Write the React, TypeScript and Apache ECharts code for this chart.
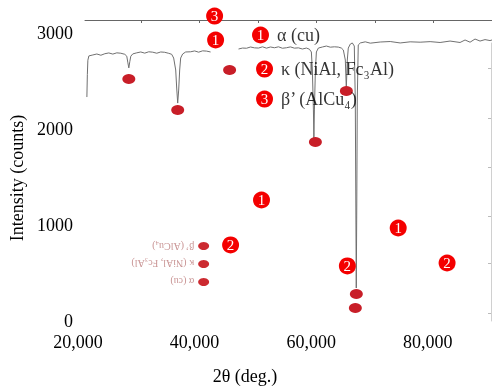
import React, { useEffect, useRef } from "react";
import * as echarts from "echarts";

// axis ticks / labels
const xTickLabels = [20000, 40000, 60000, 80000];
const yTickLabels = [0, 1000, 2000, 3000];
const topFrameTicks = [31000, 41000, 51000, 61000, 71000, 81000];
const rightFrameTicks = [80, 600, 1090, 1600, 2120, 2640];

// XRD trace (2θ, counts), three scanned pieces
const traceA: (number | string)[][] = [
  [21540, 2336], [21620, 2570], [21710, 2720], [21880, 2765], [22570, 2775], [23250, 2785],
  [23940, 2772], [24620, 2788], [25300, 2796], [25990, 2784], [26670, 2797], [27360, 2793],
  [28040, 2782], [28380, 2762], [28550, 2700], [28730, 2640], [28900, 2705], [29070, 2762],
  [29410, 2786], [30090, 2797], [30780, 2806], [31460, 2794], [32150, 2808], [32830, 2804],
  [33520, 2793], [34200, 2806], [34880, 2803], [35570, 2792], [36080, 2782], [36420, 2743],
  [36770, 2618], [36940, 2430], [37110, 2273], [37280, 2409], [37450, 2618], [37620, 2743],
  [37960, 2785], [38480, 2806], [39330, 2808], [40020, 2817], [40700, 2804], [41390, 2818],
  [42070, 2815], [42750, 2806],
];
const traceGap: (number | string)[][] = [[45000, "-"]];
const traceB: (number | string)[][] = [
  [47540, 2837], [48230, 2847], [48910, 2845], [49600, 2858], [50280, 2849], [50970, 2847],
  [51650, 2860], [52330, 2846], [53020, 2858], [53700, 2850], [54390, 2860], [55070, 2845],
  [55760, 2850], [56440, 2859], [57120, 2846], [57810, 2849], [58490, 2837], [59180, 2847],
  [59690, 2835], [60030, 2806], [60200, 2618], [60380, 2201], [60460, 1909], [60550, 2201],
  [60720, 2618], [60890, 2806], [61230, 2847], [61920, 2858], [62600, 2868], [63280, 2856],
  [63970, 2860], [64650, 2857], [65170, 2847], [65510, 2827], [65850, 2722], [66020, 2430],
  [66190, 2722], [66360, 2847], [66710, 2889],
];
const traceC: (number | string)[][] = [
  [67050, 2900], [67390, 2868], [67560, 2305], [67650, 1262], [67730, 344], [67820, 1262],
  [67900, 2305], [68070, 2879], [68420, 2900], [69270, 2912], [70130, 2898], [71840, 2910],
  [73550, 2915], [75260, 2900], [76970, 2912], [78680, 2908], [80390, 2914], [82100, 2905],
  [83810, 2920], [85520, 2905], [86380, 2931], [87240, 2908], [88090, 2941], [88950, 2920],
  [89800, 2935], [90660, 2925], [91000, 2931],
];

// big numbered markers
const bigMarkerX = [43440, 43610, 51310, 52000, 52000, 51480, 46180, 66200, 74920, 83300];
const bigMarkerY = [3181, 2931, 2983, 2628, 2315, 1262, 793, 574, 970, 605];
const bigMarkerNum = ["3", "1", "1", "2", "3", "1", "2", "2", "1", "2"];
const legendTexts = ["", "", "α (cu)", "κ (NiAl, Fc₃Al)", "β’ (AlCu₄)", "", "", "", "", ""];

// small peak markers on the trace
const peakMarkerX = [28730, 37110, 46010, 60720, 66030, 67740, 67570];
const peakMarkerY = [2524, 2201, 2618, 1867, 2399, 282, 136];

// mini legend (upside down)
const miniLegendX = [41560, 41560, 41560];
const miniLegendY = [782, 595, 407];
const miniLegendTexts = ["β’ (AlCu₄)", "κ (NiAl, Fc₃Al)", "α (cu)"];

const serif = "'Liberation Serif', 'Times New Roman', serif";

export default function App() {
  const ref = useRef<HTMLDivElement>(null);
  useEffect(() => {
    const chart = echarts.init(ref.current!, null, { renderer: "svg" });
    const trace = [...traceA, ...traceGap, ...traceB, ...traceC];
    const big = bigMarkerX.map((x, i) => [x, bigMarkerY[i]]);
    chart.setOption({
      animation: false,
      grid: [
        { left: 77, right: 0, top: 19, bottom: 69 },
        { left: 85, right: 0, top: 20, height: 10 },
        { left: 480, right: 1, top: 43, bottom: 69 },
      ],
      xAxis: [
        {
          gridIndex: 0,
          type: "value",
          min: 20000,
          max: 91000,
          axisLine: { show: false },
          axisTick: { show: false },
          splitLine: { show: false },
          axisLabel: {
            customValues: xTickLabels,
            formatter: (v: number) => v.toLocaleString("en-US"),
            color: "#000",
            fontFamily: serif,
            fontSize: 18,
            margin: 12,
          },
          name: "2θ (deg.)",
          nameLocation: "middle",
          nameGap: 46,
          nameTextStyle: { color: "#000", fontFamily: serif, fontSize: 18, padding: [0, 80, 0, 0] },
        },
        {
          gridIndex: 1,
          type: "value",
          position: "top",
          min: 21370,
          max: 91000,
          axisLine: { show: true, onZero: false, lineStyle: { color: "#666", width: 1 } },
          axisTick: { show: true, inside: true, length: 3, customValues: topFrameTicks, lineStyle: { color: "#666" } },
          axisLabel: { show: false },
          splitLine: { show: false },
        },
        { gridIndex: 2, type: "value", show: false, min: 0, max: 1 },
      ],
      yAxis: [
        {
          gridIndex: 0,
          type: "value",
          min: 0,
          max: 3150,
          axisLine: { show: false },
          axisTick: { show: false },
          splitLine: { show: false },
          axisLabel: {
            customValues: yTickLabels,
            formatter: (v: number) => String(v),
            color: "#000",
            fontFamily: serif,
            fontSize: 18,
            margin: 5,
          },
          name: "Intensity (counts)",
          nameLocation: "middle",
          nameGap: 50,
          nameTextStyle: { color: "#000", fontFamily: serif, fontSize: 18, padding: [0, 16, 0, 0] },
        },
        { gridIndex: 1, type: "value", show: false, min: 0, max: 1 },
        {
          gridIndex: 2,
          type: "value",
          position: "right",
          min: 0,
          max: 2900,
          axisLine: { show: true, onZero: false, lineStyle: { color: "#d0d0d0", width: 1 } },
          axisTick: { show: true, inside: true, length: 3, customValues: rightFrameTicks, lineStyle: { color: "#bbb" } },
          axisLabel: { show: false },
          splitLine: { show: false },
        },
      ],
      series: [
        {
          type: "line",
          xAxisIndex: 0,
          yAxisIndex: 0,
          data: trace,
          symbol: "none",
          connectNulls: false,
          lineStyle: { color: "#707070", width: 1 },
          z: 2,
        },
        {
          type: "scatter",
          xAxisIndex: 0,
          yAxisIndex: 0,
          data: peakMarkerX.map((x, i) => [x, peakMarkerY[i]]),
          symbolSize: [13, 10],
          itemStyle: { color: "#c81e28", opacity: 1 },
          clip: false,
          z: 3,
        },
        {
          type: "scatter",
          xAxisIndex: 0,
          yAxisIndex: 0,
          data: miniLegendX.map((x, i) => [x, miniLegendY[i]]),
          symbolSize: [11, 8],
          itemStyle: { color: "#cc2a30", opacity: 1 },
          clip: false,
          z: 3,
          label: {
            show: true,
            position: "left",
            align: "left",
            verticalAlign: "middle",
            rotate: 180,
            distance: 4,
            formatter: (p: any) => miniLegendTexts[p.dataIndex],
            color: "#c99494",
            fontSize: 10,
            fontFamily: serif,
          },
        },
        {
          type: "scatter",
          xAxisIndex: 0,
          yAxisIndex: 0,
          data: big,
          symbolSize: 17,
          itemStyle: { color: "#f40000", opacity: 1 },
          clip: false,
          z: 4,
          label: {
            show: true,
            position: "inside",
            formatter: (p: any) => bigMarkerNum[p.dataIndex],
            color: "#fff",
            fontSize: 15,
            fontFamily: serif,
          },
        },
        {
          type: "scatter",
          xAxisIndex: 0,
          yAxisIndex: 0,
          data: big,
          symbolSize: 17,
          itemStyle: { color: "rgba(0,0,0,0)" },
          clip: false,
          silent: true,
          z: 4,
          label: {
            show: true,
            position: "right",
            distance: 8,
            formatter: (p: any) => legendTexts[p.dataIndex],
            color: "#000",
            fontSize: 18,
            fontFamily: serif,
          },
        },
      ],
    });
    return () => chart.dispose();
  }, []);
  return <div ref={ref} style={{ position: "fixed", left: 0, top: 0, width: 492, height: 390 }} />;
}
